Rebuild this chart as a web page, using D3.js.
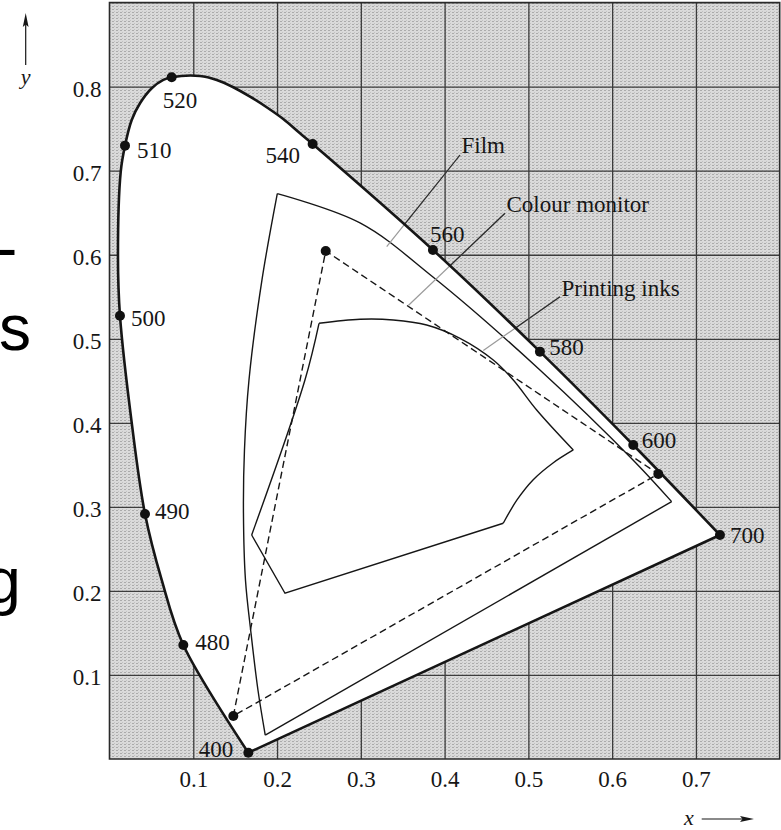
<!DOCTYPE html>
<html>
<head>
<meta charset="utf-8">
<script src="https://cdn.jsdelivr.net/npm/d3@7"></script>
<style>
  html, body { margin: 0; padding: 0; background: #fff; }
  svg { display: block; }
</style>
</head>
<body>
<svg id="chart" width="781" height="830"></svg>
<script>
// ---- data (CIE x, y chromaticity) ----

// spectral locus from the blue end to the red end, '' = shape point without a dot
let locusLabels = ['400', '480', '', '490', '', '500', '', '', '510', '', '', '', '', '520',
  '', '', '', '', '', '', '', '540', '560', '580', '600', '700'];
let locusX = [0.1657, 0.0881, 0.0623, 0.0424, 0.0265, 0.0125, 0.0101, 0.0134, 0.0185, 0.0265,
  0.0364, 0.0504, 0.0642, 0.0742, 0.1080, 0.1280, 0.1478, 0.1677, 0.1876, 0.2074, 0.2274, 0.2425,
  0.3861, 0.5138, 0.6252, 0.7287];
let locusY = [0.0075, 0.1357, 0.2130, 0.2915, 0.4002, 0.5275, 0.5973, 0.6988, 0.7298, 0.7603,
  0.7802, 0.7981, 0.8080, 0.8112, 0.8127, 0.8080, 0.7993, 0.7881, 0.7755, 0.7615, 0.7445, 0.7318,
  0.6057, 0.4847, 0.3736, 0.2665];

// film gamut, drawn as separate edges (corners are sharp)
let filmTop = [[0.2003, 0.6727], [0.2990, 0.6378], [0.3861, 0.5735], [0.5138, 0.4629], [0.6249, 0.3558], [0.6710, 0.3062]];
let filmBottom = [[0.6710, 0.3062], [0.1859, 0.0285]];
let filmLeft = [[0.1859, 0.0285], [0.1772, 0.0821], [0.1689, 0.1499], [0.1623, 0.2130], [0.1599, 0.2927],
  [0.1611, 0.3677], [0.1665, 0.4510], [0.1820, 0.5700], [0.2003, 0.6727]];

// colour monitor phosphors (blue, green, red)
let monitorX = [0.1478, 0.2581, 0.6551];
let monitorY = [0.0512, 0.6045, 0.3391];

// printing inks gamut edges
let inkTop = [[0.2501, 0.5184], [0.2990, 0.5232], [0.3387, 0.5224], [0.3786, 0.5164], [0.4184, 0.5006],
  [0.4581, 0.4748], [0.4820, 0.4510], [0.5099, 0.4153], [0.5536, 0.3677]];
let inkRight = [[0.5536, 0.3677], [0.5294, 0.3522], [0.5055, 0.3320], [0.4864, 0.3082], [0.4700, 0.2805]];
let inkBottom = [[0.4700, 0.2805], [0.2095, 0.1972], [0.1697, 0.2665]];
let inkLeft = [[0.1697, 0.2665], [0.2333, 0.4510], [0.2501, 0.5184]];

// callout names
let calloutNames = ['Film', 'Colour monitor', 'Printing inks'];

// tick values
let xTicks = [0.1, 0.2, 0.3, 0.4, 0.5, 0.6, 0.7];
let yTicks = [0.1, 0.2, 0.3, 0.4, 0.5, 0.6, 0.7, 0.8];

// ---- setup ----
let svg = d3.select('#chart');
let serif = '"Liberation Serif", "Times New Roman", serif';
let fontSize = 23;
let ink = '#161616';

let x = d3.scaleLinear().domain([0, 0.8]).range([109.5, 779.7]);
let y = d3.scaleLinear().domain([0, 0.9]).range([759, 2.6]);

let defs = svg.append('defs');

// halftone screen of the printed figure
let pat = defs.append('pattern')
  .attr('id', 'screen')
  .attr('patternUnits', 'userSpaceOnUse')
  .attr('width', 4).attr('height', 3);
pat.append('rect').attr('width', 4).attr('height', 3).attr('fill', '#dadada');
pat.append('rect').attr('width', 2).attr('height', 1).attr('fill', '#ababab');
pat.append('rect').attr('x', 2).attr('y', 2).attr('width', 1).attr('height', 1).attr('fill', '#c2c2c2');

let locusPts = locusX.map((d, i) => [d, locusY[i]]);

let line = d3.line()
  .x(d => x(d[0]))
  .y(d => y(d[1]))
  .curve(d3.curveCatmullRom.alpha(0.5));

// closed horseshoe, purple line is straight
let locusPath = line(locusPts) + 'Z';

let x0 = x(0), x1 = x(0.8), yTop = y(0.9), yBot = y(0);
let framePath = `M${x0},${yTop}H${x1}V${yBot}H${x0}Z`;

// clip for the part of the callout lines lying on the screened area
defs.append('clipPath').attr('id', 'outside')
  .append('path')
  .attr('d', framePath + locusPath)
  .attr('clip-rule', 'evenodd');

// ---- background and grid ----
svg.append('rect')
  .attr('x', x0).attr('y', yTop)
  .attr('width', x1 - x0).attr('height', yBot - yTop)
  .attr('fill', 'url(#screen)');

let gridX = svg.append('g')
  .attr('transform', `translate(0,${yBot})`)
  .call(d3.axisBottom(x).tickValues(xTicks).tickSize(-(yBot - yTop)).tickFormat(''));
let gridY = svg.append('g')
  .attr('transform', `translate(${x0},0)`)
  .call(d3.axisLeft(y).tickValues(yTicks).tickSize(-(x1 - x0)).tickFormat(''));
[gridX, gridY].forEach(g => {
  g.select('.domain').remove();
  g.selectAll('line').attr('stroke', '#3c3c3c').attr('stroke-width', 1.3);
});

// white inside the locus
svg.append('path')
  .attr('d', locusPath)
  .attr('fill', '#fff');

// ---- gamuts ----
let gamutG = svg.append('g')
  .attr('fill', 'none')
  .attr('stroke', ink)
  .attr('stroke-width', 1.4)
  .attr('stroke-linejoin', 'miter');

let straight = d3.line().x(d => x(d[0])).y(d => y(d[1]));

[filmTop, filmLeft, inkTop, inkRight, inkLeft].forEach(edge => {
  gamutG.append('path').attr('d', line(edge));
});
[filmBottom, inkBottom].forEach(edge => {
  gamutG.append('path').attr('d', straight(edge));
});

let monitorPts = monitorX.map((d, i) => [d, monitorY[i]]);
gamutG.append('path')
  .attr('d', straight(monitorPts) + 'Z')
  .attr('stroke-dasharray', '7,4');

// ---- callouts ----
// label anchor (baseline start) and end point of each leader, in pixels
let callouts = calloutNames.map((name, i) => ({
  name: name,
  tx: [461.5, 506.5, 561.5][i],
  ty: [153.3, 211.7, 296][i],
  from: [[460, 155], [505, 213.3], [560, 296.7]][i],
  to: [[386.7, 246.7], [408.3, 305.5], [483.3, 350.5]][i]
}));

let leaderG = svg.append('g');
leaderG.selectAll('line.light')
  .data(callouts)
  .join('line')
  .attr('class', 'light')
  .attr('x1', d => d.from[0]).attr('y1', d => d.from[1])
  .attr('x2', d => d.to[0]).attr('y2', d => d.to[1])
  .attr('stroke', '#9a9a9a').attr('stroke-width', 1.2);
leaderG.append('g').attr('clip-path', 'url(#outside)')
  .selectAll('line')
  .data(callouts)
  .join('line')
  .attr('x1', d => d.from[0]).attr('y1', d => d.from[1])
  .attr('x2', d => d.to[0]).attr('y2', d => d.to[1])
  .attr('stroke', '#2a2a2a').attr('stroke-width', 1.2);

svg.append('g')
  .selectAll('text')
  .data(callouts)
  .join('text')
  .attr('x', d => d.tx).attr('y', d => d.ty)
  .attr('font-family', serif).attr('font-size', fontSize)
  .attr('fill', ink)
  .text(d => d.name);

// ---- spectral locus outline ----
svg.append('path')
  .attr('d', locusPath)
  .attr('fill', 'none')
  .attr('stroke', ink)
  .attr('stroke-width', 2.6)
  .attr('stroke-linejoin', 'round');

// dots on the locus and on the monitor phosphors
let dotted = locusPts.map((d, i) => ({ p: d, label: locusLabels[i] })).filter(d => d.label !== '');

svg.append('g')
  .selectAll('circle')
  .data(dotted.map(d => d.p).concat(monitorPts))
  .join('circle')
  .attr('cx', d => x(d[0])).attr('cy', d => y(d[1]))
  .attr('r', 5)
  .attr('fill', '#111');

// wavelength label placement (dx, dy, anchor) relative to the dot
let labelPos = {
  '400': [-15, 4.5, 'end'],
  '480': [12, 5, 'start'],
  '490': [10, 5.3, 'start'],
  '500': [11, 10, 'start'],
  '510': [12, 12.6, 'start'],
  '520': [8.3, 31, 'middle'],
  '540': [-12.7, 19.3, 'end'],
  '560': [-3, -8.3, 'start'],
  '580': [9.3, 3.3, 'start'],
  '600': [8.4, 3.3, 'start'],
  '700': [10, 8.3, 'start']
};

svg.append('g')
  .selectAll('text')
  .data(dotted)
  .join('text')
  .attr('x', d => x(d.p[0]) + labelPos[d.label][0])
  .attr('y', d => y(d.p[1]) + labelPos[d.label][1])
  .attr('text-anchor', d => labelPos[d.label][2])
  .attr('font-family', serif).attr('font-size', fontSize)
  .attr('fill', ink)
  .text(d => d.label);

// frame
svg.append('path')
  .attr('d', framePath)
  .attr('fill', 'none')
  .attr('stroke', '#2a2a2a')
  .attr('stroke-width', 1.6);

// ---- tick labels ----
let fmt = d3.format('.1f');
let axX = svg.append('g')
  .attr('transform', `translate(0,${yBot})`)
  .call(d3.axisBottom(x).tickValues(xTicks).tickSize(0).tickPadding(11.5).tickFormat(fmt));
let axY = svg.append('g')
  .attr('transform', `translate(${x0},0)`)
  .call(d3.axisLeft(y).tickValues(yTicks).tickSize(0).tickPadding(8).tickFormat(fmt));
[axX, axY].forEach(g => {
  g.select('.domain').remove();
  g.selectAll('text')
    .attr('font-family', serif).attr('font-size', fontSize)
    .attr('fill', ink);
});
axY.selectAll('text').attr('dy', '0.42em');

// ---- axis names with arrows ----
svg.append('text')
  .attr('x', 25.7).attr('y', 84)
  .attr('text-anchor', 'middle')
  .attr('font-family', serif).attr('font-style', 'italic').attr('font-size', 22)
  .attr('fill', ink)
  .text('y');
svg.append('line')
  .attr('x1', 25.7).attr('y1', 65).attr('x2', 25.7).attr('y2', 22)
  .attr('stroke', ink).attr('stroke-width', 1.2);
svg.append('path')
  .attr('d', 'M25.7,13 L28.6,27 L25.7,24.5 L22.8,27 Z')
  .attr('fill', ink);

svg.append('text')
  .attr('x', 689).attr('y', 825)
  .attr('text-anchor', 'middle')
  .attr('font-family', serif).attr('font-style', 'italic').attr('font-size', 22)
  .attr('fill', ink)
  .text('x');
svg.append('line')
  .attr('x1', 701.7).attr('y1', 819).attr('x2', 745).attr('y2', 819)
  .attr('stroke', ink).attr('stroke-width', 1.2);
svg.append('path')
  .attr('d', 'M754,819 L740,816.1 L742.5,819 L740,821.9 Z')
  .attr('fill', ink);

// ---- cut-off slide text at the left edge ----
let sans = '"Liberation Sans", Arial, sans-serif';
[['-', -4, 270], ['s', -1, 350], ['g', -14.7, 603]].forEach(t => {
  svg.append('text')
    .attr('x', t[1]).attr('y', t[2])
    .attr('font-family', sans).attr('font-size', 64)
    .attr('fill', '#000')
    .text(t[0]);
});
</script>
</body>
</html>
